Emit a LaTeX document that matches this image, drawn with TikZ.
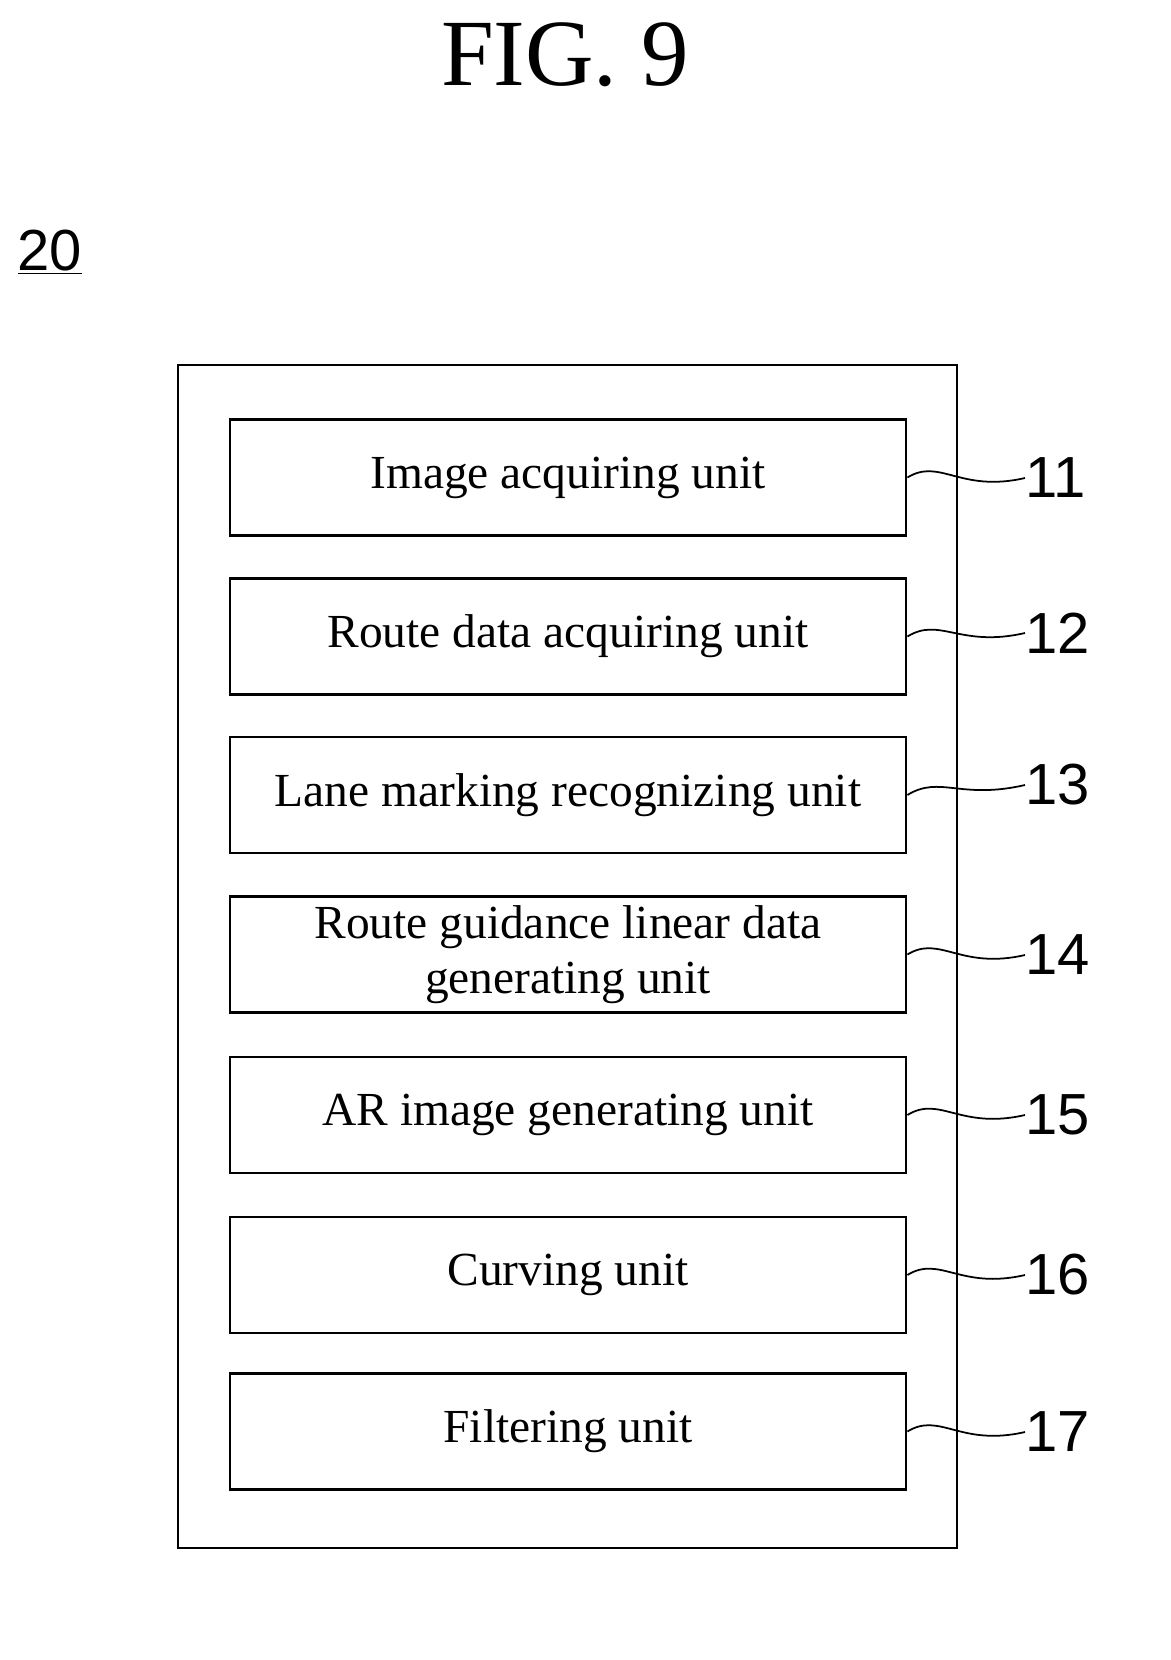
\documentclass[tikz,border=0pt]{standalone}
\usepackage{fontspec}
\setmainfont{Liberation Serif}
\setsansfont{Liberation Sans}
\begin{document}
\begin{tikzpicture}[x=0.02cm,y=-0.02cm,
  unit/.style={draw,line width=1.6pt,minimum width=676*0.02cm,minimum height=116*0.02cm,inner sep=0pt,font=\fontsize{27}{31}\selectfont,align=center},
  num/.style={font=\sffamily\fontsize{33}{34}\selectfont,anchor=west,inner sep=0pt},
  lead/.style={line width=1pt}]
\useasboundingbox (0,0) rectangle (1170,1660);
\node (title) at (565,55) {\fontsize{54}{56}\selectfont FIG. 9};
\node (ref) at (50,252) {\sffamily\fontsize{33}{34}\selectfont\underline{20}};
\node[draw,line width=1.6pt,minimum width=779*0.02cm,minimum height=1183*0.02cm,inner sep=0pt] (outer) at (567.5,956.5) {};
\foreach \n/\y/\t/\ly in {11/477.5/Image acquiring unit/478,
  12/636.5/Route data acquiring unit/633,
  13/795/Lane marking recognizing unit/785,
  14/954.5/{Route guidance linear data\\generating unit}/955,
  15/1115/AR image generating unit/1115,
  16/1275/Curving unit/1275,
  17/1431.5/Filtering unit/1432}{
  \node[unit] (u\n) at (568,\y) {\t};
  \node[num] (n\n) at (1025,\ly) {\n};
  \draw[lead] (u\n.east) .. controls (940,\y-20) and (960,\ly+15) .. (n\n.west);
}
\end{tikzpicture}
\end{document}
